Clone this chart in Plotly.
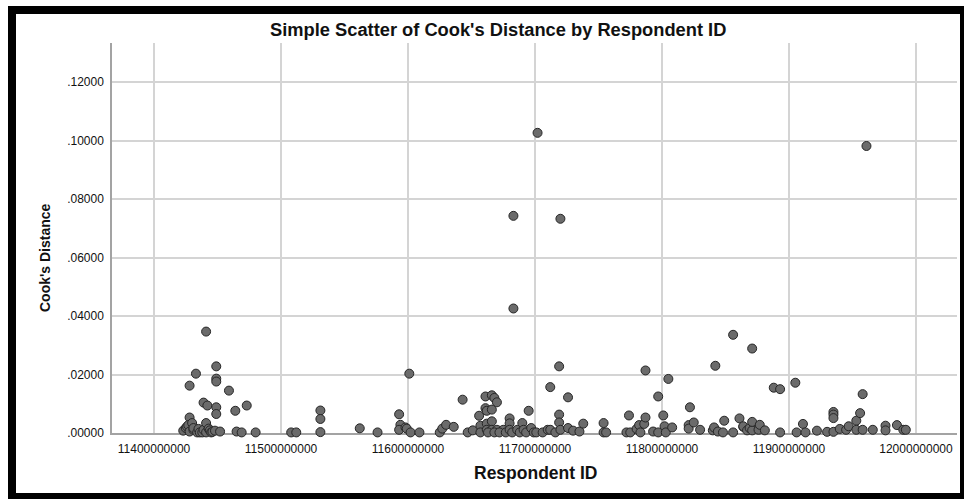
import plotly.graph_objects as go

# Cook's distance for each respondent (IDs are 11-digit respondent codes)
respondent_id = [
    11423000000, 11425000000, 11426000000, 11428000000, 11428000000, 11427000000,
    11430000000, 11428000000, 11431000000, 11431000000, 11433000000, 11434000000,
    11435000000, 11436000000, 11438000000, 11439000000, 11439000000, 11442000000,
    11441000000, 11441000000, 11441000000, 11443000000, 11444000000, 11445000000,
    11446000000, 11448000000, 11449000000, 11449000000, 11449000000, 11449000000,
    11449000000, 11452000000, 11459000000, 11464000000, 11465000000, 11469000000,
    11473000000, 11480000000,
    11508000000, 11512000000, 11531000000, 11531000000, 11531000000, 11562000000,
    11576000000, 11593000000, 11594000000, 11593000000, 11598000000, 11599000000,
    11601000000, 11602000000, 11609000000, 11625000000, 11627000000, 11630000000,
    11636000000, 11643000000, 11647000000, 11651000000, 11656000000, 11657000000,
    11657000000, 11661000000, 11666000000, 11668000000, 11670000000, 11661000000,
    11662000000, 11666000000, 11662000000, 11666000000, 11662000000, 11666000000,
    11670000000, 11675000000, 11663000000, 11668000000, 11672000000, 11677000000,
    11680000000, 11680000000, 11680000000, 11682000000, 11683000000, 11683000000,
    11686000000, 11688000000, 11690000000, 11691000000, 11693000000, 11695000000,
    11697000000, 11699000000, 11701000000, 11702000000, 11706000000, 11710000000,
    11712000000, 11712000000, 11716000000, 11719000000, 11719000000, 11719000000,
    11720000000, 11720000000, 11726000000, 11726000000, 11730000000, 11735000000,
    11738000000,
    11754000000, 11754000000, 11756000000, 11772000000, 11774000000, 11775000000,
    11780000000, 11782000000, 11783000000, 11786000000, 11787000000, 11787000000,
    11793000000, 11797000000, 11797000000, 11801000000, 11802000000, 11803000000,
    11805000000, 11808000000, 11821000000, 11821000000, 11822000000, 11825000000,
    11830000000, 11840000000, 11841000000, 11842000000, 11844000000, 11848000000,
    11849000000, 11856000000, 11856000000, 11861000000, 11864000000, 11864000000,
    11867000000, 11869000000, 11871000000, 11871000000, 11871000000, 11876000000,
    11877000000, 11881000000, 11888000000, 11893000000, 11893000000,
    11905000000, 11906000000, 11911000000, 11913000000, 11922000000, 11930000000,
    11935000000, 11935000000, 11935000000, 11935000000, 11940000000, 11945000000,
    11947000000, 11953000000, 11953000000, 11956000000, 11958000000, 11958000000,
    11961000000, 11966000000, 11976000000, 11976000000, 11985000000, 11990000000,
    11992000000,
]

cooks_distance = [
    .0008, .0017, .0022, .0162, .0053, .0027,
    .0034, .0005, .0011, .0017, .0203, .0002,
    .0014, .0002, .0002, .0011, .0104, .0094,
    .0034, .0002, .0347, .0015, .0009, .0002,
    .0004, .0008, .0228, .0186, .0176, .0088,
    .0065, .0005, .0145, .0076, .0005, .0002,
    .0094, .0002,
    .0002, .0002, .0077, .0048, .0003, .0016,
    .0002, .0064, .0028, .0011, .0019, .0015,
    .0203, .0002, .0002, .0002, .0015, .0028,
    .0021, .0114, .0002, .0009, .0059, .0025,
    .0002, .0125, .0129, .0120, .0105, .0085,
    .0076, .0080, .0032, .0040, .0011, .0011,
    .0011, .0011, .0002, .0002, .0002, .0002,
    .0050, .0033, .0011, .0002, .0743, .0426,
    .0011, .0002, .0034, .0011, .0002, .0076,
    .0017, .0002, .0002, .1027, .0002, .0011,
    .0157, .0011, .0002, .0228, .0063, .0036,
    .0733, .0011, .0122, .0017, .0008, .0005,
    .0032,
    .0034, .0002, .0002, .0002, .0060, .0002,
    .0014, .0027, .0002, .0031, .0053, .0214,
    .0005, .0125, .0002, .0060, .0023, .0002,
    .0185, .0019, .0027, .0015, .0088, .0036,
    .0011, .0009, .0019, .0230, .0005, .0002,
    .0042, .0002, .0336, .0050, .0021, .0023,
    .0009, .0017, .0009, .0038, .0289, .0011,
    .0028, .0009, .0155, .0150, .0002,
    .0172, .0002, .0031, .0002, .0008, .0004,
    .0004, .0072, .0063, .0051, .0014, .0011,
    .0023, .0042, .0011, .0068, .0133, .0011,
    .0982, .0011, .0025, .0009, .0027, .0011,
    .0011,
]

x_tick_values = [11400000000, 11500000000, 11600000000, 11700000000,
                 11800000000, 11900000000, 12000000000]
x_tick_labels = ["11400000000", "11500000000", "11600000000", "11700000000",
                 "11800000000", "11900000000", "12000000000"]
y_tick_values = [0.0, 0.02, 0.04, 0.06, 0.08, 0.10, 0.12]
y_tick_labels = [".00000", ".02000", ".04000", ".06000", ".08000", ".10000", ".12000"]

FONT = "Liberation Sans, Arial, sans-serif"
W, H = 964, 499
L, R, T, B = 112, 7, 43, 66
PW, PH = W - L - R, H - T - B


def px(x):
    return (x - L) / PW


def py(y):
    return (H - B - y) / PH


fig = go.Figure()
fig.add_trace(go.Scatter(
    x=respondent_id,
    y=cooks_distance,
    mode="markers",
    cliponaxis=False,
    marker=dict(size=9, color="#6b6b6b", line=dict(color="#262626", width=1)),
    hoverinfo="x+y",
))

axis_common = dict(
    showline=True, linecolor="#a3a3a3", linewidth=1.5,
    showgrid=True, gridcolor="#d4d4d4", gridwidth=1.5,
    zeroline=False, ticks="", layer="below traces",
    tickfont=dict(family=FONT, size=12, color="#111111"),
)

fig.update_xaxes(
    range=[11366900000, 12032300000],
    tickvals=x_tick_values, ticktext=x_tick_labels,
    ticklabelstandoff=4,
    **axis_common,
)
fig.update_yaxes(
    range=[0, 0.13344],
    tickvals=y_tick_values, ticktext=y_tick_labels,
    ticklabelstandoff=4,
    **axis_common,
)

# black window frame around the chart
band = dict(type="rect", xref="paper", yref="paper", fillcolor="black",
            line=dict(width=0), layer="below")
shapes = [
    dict(x0=px(8), x1=px(16), y0=py(6), y1=py(499), **band),
    dict(x0=px(8), x1=px(964), y0=py(6), y1=py(14), **band),
    dict(x0=px(8), x1=px(964), y0=py(493), y1=py(499), **band),
    dict(x0=px(960), x1=px(964), y0=py(6), y1=py(499), **band),
]

annotations = [
    dict(text="<b>Simple Scatter of Cook's Distance by Respondent ID</b>",
         x=px(498), y=py(30), xref="paper", yref="paper",
         xanchor="center", yanchor="middle", showarrow=False,
         font=dict(family=FONT, size=18.3, color="#111111")),
    dict(text="<b>Respondent ID</b>",
         x=px(535), y=py(473), xref="paper", yref="paper",
         xanchor="center", yanchor="middle", showarrow=False,
         font=dict(family=FONT, size=17.5, color="#111111")),
    dict(text="<b>Cook's Distance</b>",
         x=px(45), y=py(258), xref="paper", yref="paper", textangle=-90,
         xanchor="center", yanchor="middle", showarrow=False,
         font=dict(family=FONT, size=14, color="#111111")),
]

fig.update_layout(
    width=W, height=H,
    margin=dict(l=L, r=R, t=T, b=B),
    paper_bgcolor="white", plot_bgcolor="rgba(0,0,0,0)",
    showlegend=False,
    shapes=shapes,
    annotations=annotations,
)

fig.write_html("out.html")
